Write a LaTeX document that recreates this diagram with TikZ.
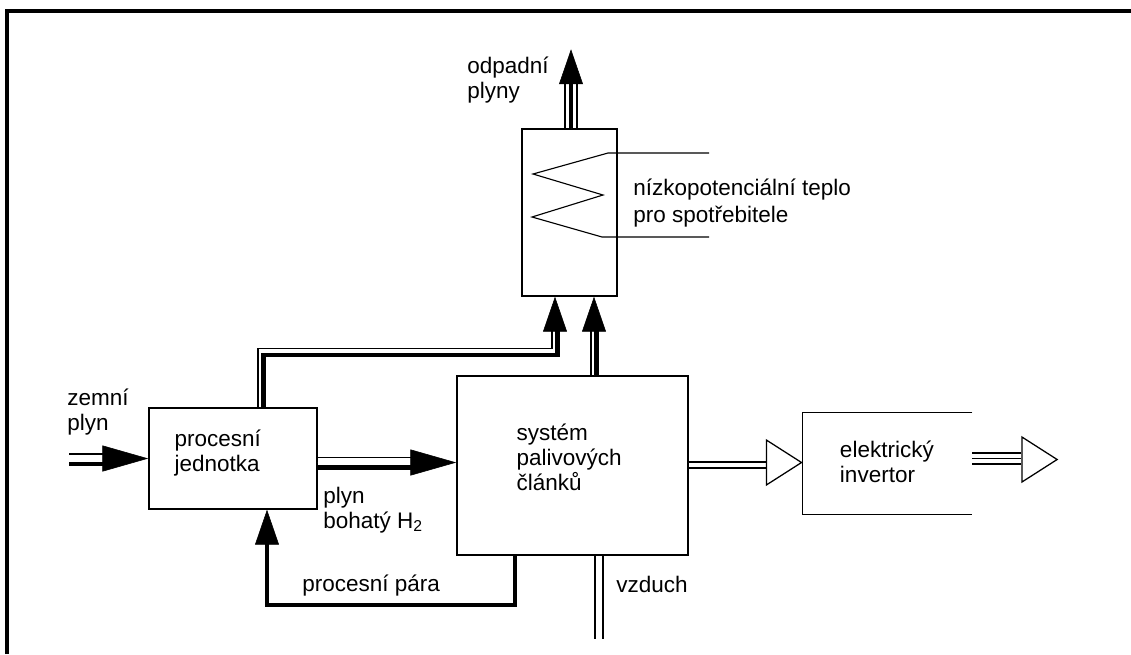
\documentclass[tikz,border=0pt]{standalone}
\usepackage{fontspec}
\setmainfont{Liberation Sans}
\usetikzlibrary{arrows.meta,calc}

\begin{document}
\begin{tikzpicture}[x=0.025cm,y=-0.025cm,
  every node/.style={font=\fontsize{16}{17.7}\selectfont},
  unit/.style={draw,line width=1pt,inner sep=0pt},
  txt/.style={align=left,anchor=west,inner sep=0pt},
  thinpipe/.style={line width=0.9pt},
  thickpipe/.style={line width=2.9pt},
  flow/.style={white,line width=0.4pt},
  bigtip/.tip={Triangle[length=32.6pt,width=18.5pt,line width=0.4pt,color=black,fill=black]},
  smalltip/.tip={Triangle[length=24.8pt,width=17pt,line width=0.4pt,color=black,fill=black]},
  etip/.tip={Triangle[open,length=26.2pt,width=33.3pt,line width=0.9pt,color=black]}]
  \useasboundingbox (0,0) rectangle (1131,654);
  \draw[line width=2.4pt] (7,654) -- (7,11) -- (1131,11);

  % units
  \node[unit,minimum width=4.2cm,minimum height=2.525cm,
    label={[txt,xshift=0.65cm,yshift=0.14cm]west:procesní\\jednotka}] (proc) at (233,458.5) {};
  \node[unit,minimum width=5.775cm,minimum height=4.475cm,
    label={[txt,xshift=1.5cm,yshift=0.21cm]west:systém\\palivových\\článků}] (sys) at (572.5,465.5) {};
  \node[unit,minimum width=2.375cm,minimum height=4.175cm] (exch) at (569.5,212.5) {};
  \node[inner sep=0pt,minimum width=4.225cm,minimum height=2.525cm,
    label={[txt,xshift=0.925cm,yshift=0.04cm]west:elektrický\\invertor}] (inv) at (887.5,463.5) {};
  \draw[line width=1pt] (inv.north east) -- (inv.north west) -- (inv.south west) -- (inv.south east);

  % heat exchanger coil
  \draw[line width=0.8pt] (709,153) -- (608,153) -- (533,174) -- (603,195)
    -- (532,217) -- (602,237) -- (709,237);

  % labels
  \node[txt] (gas) at (67,412) {zemní\\plyn};
  \node[txt] (h2) at (323,510) {plyn\\bohatý H\textsubscript{2}};
  \node[txt] (steam) at (302,586) {procesní pára};
  \node[txt] (airlbl) at (616,584) {vzduch};
  \node[txt] (waste) at (467,80) {odpadní\\plyny};
  \node[txt] (heat) at (633,203) {nízkopotenciální teplo\\[2pt]pro spotřebitele};

  % natural gas in
  \coordinate (gasin) at (69,458.5);
  \draw[flow,-bigtip] (gasin) -- (proc.west);
  \draw[thinpipe] ($(gasin)+(0,-4.5)$) -- ($(proc.west)+(-44,-4.5)$);
  \draw[thickpipe] ($(gasin)+(0,5.5)$) -- ($(proc.west)+(-44,5.5)$);

  % hydrogen rich gas
  \coordinate (h2a) at ($(proc.east)+(0,4)$);
  \coordinate (h2b) at (h2a -| sys.west);
  \draw[flow,-bigtip] (h2a) -- (h2b);
  \draw[thinpipe] ($(h2a)+(0,-5)$) -- ($(h2b)+(-44,-5)$);
  \draw[thickpipe] ($(h2a)+(0,5)$) -- ($(h2b)+(-44,5)$);

  % process steam
  \draw[thickpipe,-smalltip] ($(sys.south)+(-57.5,0)$) -- ++(0,49) -| ($(proc.south)+(34,0)$);

  % flue gas to exchanger
  \draw[flow,-smalltip] ($(proc.north)+(27.5,0)$) |- ($(exch.south)+(-14.5,55)$) -- ($(exch.south)+(-14.5,0)$);
  \draw[thinpipe] ($(proc.north)+(25,0)$) |- ($(exch.south)+(-17.5,52)$) -- ($(exch.south)+(-17.5,33)$);
  \draw[thickpipe] ($(proc.north)+(30.5,0)$) |- ($(exch.south)+(-12,58)$) -- ($(exch.south)+(-12,33)$);

  \coordinate (up) at ($(exch.south)+(24.5,0)$);
  \draw[flow,-smalltip] (up |- sys.north) -- (up);
  \draw[thinpipe] ($(up |- sys.north)+(-3,0)$) -- ($(up)+(-3,33)$);
  \draw[thickpipe] ($(up |- sys.north)+(2.5,0)$) -- ($(up)+(2.5,33)$);

  % waste gas out
  \coordinate (wasteend) at ($(exch.north)+(1.5,-79)$);
  \draw[flow,-smalltip] (exch.north -| wasteend) -- (wasteend);
  \draw[thinpipe] ($(exch.north -| wasteend)+(-6,0)$) -- ($(wasteend)+(-6,33)$);
  \draw[thickpipe] (exch.north -| wasteend) -- ($(wasteend)+(0,33)$);
  \draw[thinpipe] ($(exch.north -| wasteend)+(6,0)$) -- ($(wasteend)+(6,33)$);

  % DC to inverter
  \coordinate (dc) at ($(inv.west)+(0,-1)$);
  \draw[flow,-etip] (dc -| sys.east) -- (dc);
  \draw[thinpipe] ($(dc -| sys.east)+(0,-0.5)$) -- ($(dc)+(-37,-0.5)$);
  \draw[thinpipe] ($(dc -| sys.east)+(0,5.5)$) -- ($(dc)+(-37,5.5)$);

  % AC out
  \coordinate (acout) at ($(inv.east)+(86,-4)$);
  \draw[flow,-etip] (inv.east |- acout) -- (acout);
  \foreach \dy in {-6.5,-1,4.5}
    \draw[thinpipe] ($(inv.east |- acout)+(0,\dy)$) -- ($(acout)+(-37,\dy)$);

  % air
  \coordinate (air) at ($(sys.south)+(26.5,83)$);
  \draw[thinpipe] ($(sys.south)+(22.5,0)$) -- ($(air)+(-4,0)$);
  \draw[thinpipe] ($(sys.south)+(30.5,0)$) -- ($(air)+(4,0)$);
\end{tikzpicture}
\end{document}
